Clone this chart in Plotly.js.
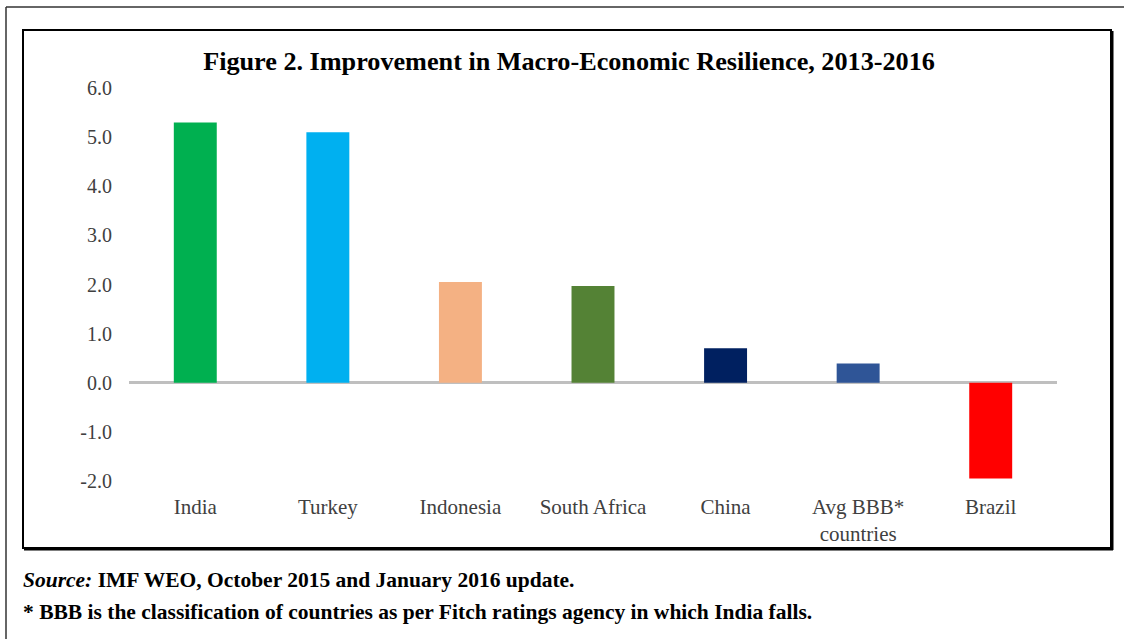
<!DOCTYPE html>
<html>
<head>
<meta charset="utf-8">
<script src="https://cdn.plot.ly/plotly-3.0.1.min.js"></script>
<style>
  html, body { margin: 0; padding: 0; background: #fff; }
  #chart { width: 1124px; height: 639px; }
</style>
</head>
<body>
<div id="chart"></div>
<script>
// ---- Data ----
const categories = ['India', 'Turkey', 'Indonesia', 'South Africa', 'China', 'Avg BBB*<br>countries', 'Brazil'];
const values = [5.3, 5.1, 2.05, 1.97, 0.7, 0.39, -1.95];
const barColors = ['#00B050', '#00B0F0', '#F4B183', '#548235', '#002060', '#2F5597', '#FF0000'];
const yTickVals = [-2, -1, 0, 1, 2, 3, 4, 5, 6];
const yTickText = ['-2.0', '-1.0', '0.0', '1.0', '2.0', '3.0', '4.0', '5.0', '6.0'];
const titleText = '<b>Figure 2. Improvement in Macro-Economic Resilience, 2013-2016</b>';
const sourceText = '<b><i>Source:</i> IMF WEO, October 2015 and January 2016 update.</b>';
const noteText = '<b>* BBB is the classification of countries as per Fitch ratings agency in which India falls.</b>';

// ---- Layout geometry (pixels) ----
const W = 1124, H = 639;
const L = 129, R = 1057, T = 88, B = 481;
const px2x = p => (p - L) / (R - L);
const px2y = p => (B - p) / (B - T);

const serif = 'Liberation Serif, Times New Roman, serif';

const trace = {
  type: 'bar',
  x: categories,
  y: values,
  marker: { color: barColors, line: { width: 0 } },
  hoverinfo: 'x+y'
};

const shapes = [
  // outer frame (top + left)
  { type: 'line', xref: 'paper', yref: 'paper', x0: px2x(6), x1: px2x(1124), y0: px2y(7), y1: px2y(7), line: { color: '#333', width: 1.5 } },
  { type: 'line', xref: 'paper', yref: 'paper', x0: px2x(6), x1: px2x(6), y0: px2y(7), y1: px2y(639), line: { color: '#333', width: 1.5 } },
  // inner box
  { type: 'rect', xref: 'paper', yref: 'paper', x0: px2x(23), x1: px2x(1111), y0: px2y(30), y1: px2y(548), line: { color: '#000', width: 2 } },
  { type: 'line', xref: 'paper', yref: 'paper', x0: px2x(1112), x1: px2x(1112), y0: px2y(31), y1: px2y(550), line: { color: '#000', width: 3 } },
  { type: 'line', xref: 'paper', yref: 'paper', x0: px2x(24), x1: px2x(1113), y0: px2y(549), y1: px2y(549), line: { color: '#000', width: 3 } }
];

const annotations = [
  { xref: 'paper', yref: 'paper', x: px2x(21), y: px2y(580), xanchor: 'left', yanchor: 'middle', showarrow: false, text: sourceText, font: { family: serif, size: 21.5, color: '#000' } },
  { xref: 'paper', yref: 'paper', x: px2x(21), y: px2y(612), xanchor: 'left', yanchor: 'middle', showarrow: false, text: noteText, font: { family: serif, size: 21.5, color: '#000' } }
];

const layout = {
  width: W, height: H,
  margin: { l: L, r: W - R, t: T, b: H - B, pad: 0 },
  paper_bgcolor: '#fff', plot_bgcolor: '#fff',
  showlegend: false,
  bargap: 0.676,
  title: {
    text: titleText,
    xref: 'container', yref: 'container',
    x: 569 / W, xanchor: 'center',
    y: (H - 61) / H, yanchor: 'middle',
    font: { family: serif, size: 26.2, color: '#000' }
  },
  xaxis: {
    type: 'category',
    showgrid: false, zeroline: false, showline: false,
    ticks: '', ticklabelstandoff: 11,
    tickfont: { family: serif, size: 21, color: '#404040' },
    fixedrange: true
  },
  yaxis: {
    range: [-2, 6],
    tickvals: yTickVals, ticktext: yTickText,
    showgrid: false, showline: false,
    zeroline: true, zerolinecolor: '#BFBFBF', zerolinewidth: 3,
    ticks: '', ticklabelstandoff: 16,
    tickfont: { family: serif, size: 20, color: '#404040' },
    fixedrange: true,
    layer: 'above traces'
  },
  shapes: shapes,
  annotations: annotations
};

Plotly.newPlot('chart', [trace], layout, { displayModeBar: false, staticPlot: true });
</script>
</body>
</html>
